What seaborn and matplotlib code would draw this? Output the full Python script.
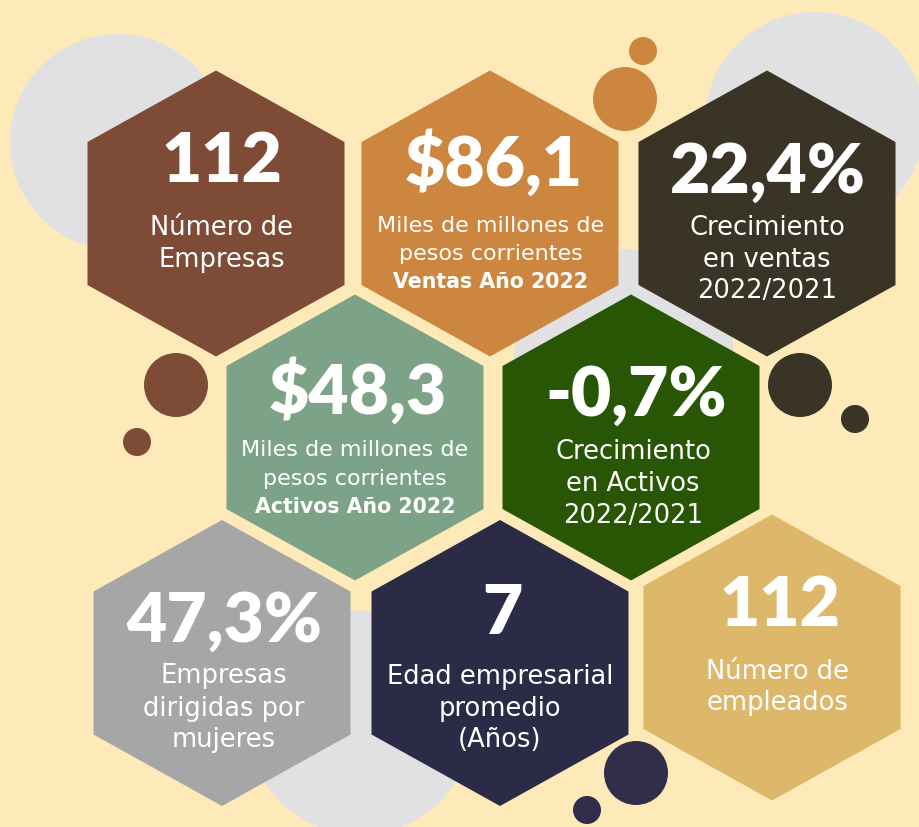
import numpy as np
import pandas as pd
import seaborn as sns
import matplotlib
matplotlib.use("Agg")
import matplotlib.pyplot as plt
from matplotlib.patches import Polygon, Circle

sns.set_theme(style="white")
plt.rcParams['font.family'] = ['Lato', 'DejaVu Sans']

# ---- data ----
values = ["112", "$86,1", "22,4%", "$48,3", "-0,7%", "47,3%", "7", "112"]
labels = [
    ["Número de", "Empresas"],
    ["Miles de millones de", "pesos corrientes", "Ventas Año 2022"],
    ["Crecimiento", "en ventas", "2022/2021"],
    ["Miles de millones de", "pesos corrientes", "Activos Año 2022"],
    ["Crecimiento", "en Activos", "2022/2021"],
    ["Empresas", "dirigidas por", "mujeres"],
    ["Edad empresarial", "promedio", "(Años)"],
    ["Número de", "empleados"],
]
bold_last = [False, True, False, True, False, False, False, False]
hex_colors = ["#7E4B36", "#CD8640", "#3A3426", "#7CA387",
              "#285604", "#A6A6A6", "#2C2B47", "#DDB76A"]

# ---- layout ----
BG = "#FDEAB8"
GREY = "#E1E1E3"
hex_cx = [216, 490, 767, 355, 631, 222, 500, 772]
hex_cy = [214.5, 214.5, 214.5, 438.5, 438.5, 664, 664, 658.5]
HR, HW = 143, 128.5
text_x = [222, 494, 768, 358, 636, 224, 502, 780]
num_base = [182, 186, 193, 414, 416, 642, 634, 626]
sub_x = [222, 491, 767, 355, 633, 224, 500, 778]
sub_base = [[235, 267], [232, 260, 288], [235, 267, 298], [456, 485, 513],
            [459, 491, 523], [683, 716, 747], [684, 716, 747], [679, 710]]
sub_size = [18.5, 16, 18.5, 16, 18.5, 18.5, 18.5, 18.5]
SUB_FONT = ['DejaVu Sans']

grey_circles = [(118, 143, 108), (815, 123, 110), (624, 360, 110), (360, 724, 112)]
dot_circles = [(625, 100, 32, "#CD8640"), (643, 52, 14, "#CD8640"),
               (176, 386, 32, "#7E4B36"), (137, 443, 14, "#7E4B36"),
               (800, 386, 32, "#3A3426"), (855, 420, 14, "#3A3426"),
               (636, 774, 32, "#322D4B"), (587, 811, 14, "#322D4B")]

fig = plt.figure(figsize=(9.2, 8.28), dpi=100, facecolor=BG)
ax = fig.add_axes([0, 0, 1, 1])
ax.set_xlim(0, 920)
ax.set_ylim(828, 0)
ax.set_facecolor(BG)
ax.axis("off")

for (x, y, r) in grey_circles:
    ax.add_patch(Circle((x, y), r, color=GREY, lw=0, zorder=1))

for i in range(len(values)):
    cx, cy = hex_cx[i], hex_cy[i]
    pts = [(cx, cy - HR), (cx + HW, cy - HR / 2), (cx + HW, cy + HR / 2),
           (cx, cy + HR), (cx - HW, cy + HR / 2), (cx - HW, cy - HR / 2)]
    ax.add_patch(Polygon(pts, closed=True, color=hex_colors[i], lw=0, zorder=2))
    ax.text(text_x[i], num_base[i], values[i], color="white", fontsize=50,
            fontweight="heavy", ha="center", va="baseline", zorder=4)
    for j, line in enumerate(labels[i]):
        is_bold = bold_last[i] and j == len(labels[i]) - 1
        ax.text(sub_x[i], sub_base[i][j], line, color="white", family=SUB_FONT,
                fontsize=sub_size[i] - (1.2 if is_bold else 0),
                fontweight="bold" if is_bold else "normal",
                ha="center", va="baseline", zorder=4)

for (x, y, r, c) in dot_circles:
    ax.add_patch(Circle((x, y), r, color=c, lw=0, zorder=3))

fig.savefig("out.png", dpi=100, facecolor=BG)
